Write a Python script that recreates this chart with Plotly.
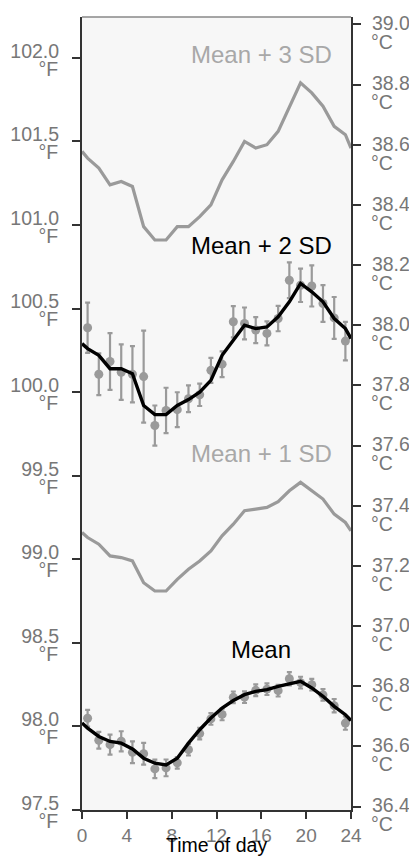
import plotly.graph_objects as go

# hours of day: smoothed curves (with wrap-around end points) and hourly means
line_hours = [0, 0.5, 1.5, 2.5, 3.5, 4.5, 5.5, 6.5, 7.5, 8.5, 9.5, 10.5, 11.5,
              12.5, 13.5, 14.5, 15.5, 16.5, 17.5, 18.5, 19.5, 20.5, 21.5, 22.5, 23.5, 24]
point_hours = [0.5, 1.5, 2.5, 3.5, 4.5, 5.5, 6.5, 7.5, 8.5, 9.5, 10.5, 11.5,
               12.5, 13.5, 14.5, 15.5, 16.5, 17.5, 18.5, 19.5, 20.5, 21.5, 22.5, 23.5]

# smoothed curves (°F)
sd3_line = [101.44, 101.40, 101.34, 101.24, 101.26, 101.23, 100.99, 100.91, 100.91, 100.99, 100.99, 101.05, 101.12,
            101.27, 101.38, 101.50, 101.46, 101.48, 101.56, 101.70, 101.85, 101.79, 101.71, 101.59, 101.54, 101.46]
sd2_line = [100.29, 100.26, 100.22, 100.14, 100.14, 100.11, 99.92, 99.865, 99.865, 99.92, 99.955, 100.00, 100.07,
            100.22, 100.31, 100.40, 100.38, 100.39, 100.45, 100.54, 100.65, 100.60, 100.54, 100.44, 100.38, 100.32]
sd1_line = [99.16, 99.13, 99.09, 99.02, 99.01, 98.99, 98.86, 98.81, 98.81, 98.88, 98.94, 98.99, 99.05,
            99.14, 99.21, 99.29, 99.30, 99.31, 99.345, 99.41, 99.46, 99.41, 99.36, 99.27, 99.22, 99.17]
mean_line = [98.02, 97.99, 97.94, 97.91, 97.90, 97.865, 97.81, 97.78, 97.77, 97.81, 97.90, 97.98, 98.05,
             98.11, 98.155, 98.19, 98.21, 98.22, 98.24, 98.255, 98.27, 98.23, 98.18, 98.12, 98.07, 98.035]

# hourly values with error bars (°F)
sd2_pts = [100.385, 100.107, 100.183, 100.119, 100.107, 100.093, 99.80, 99.89, 99.895, 99.96, 99.984, 100.13,
           100.167, 100.421, 100.411, 100.371, 100.351, 100.44, 100.669, 100.639, 100.635, 100.53, 100.444, 100.305]
sd2_err = [0.15, 0.125, 0.17, 0.166, 0.168, 0.275, 0.12, 0.136, 0.104, 0.08, 0.067, 0.075,
           0.077, 0.093, 0.095, 0.078, 0.072, 0.076, 0.107, 0.1, 0.123, 0.11, 0.125, 0.115]
mean_pts = [98.049, 97.917, 97.891, 97.911, 97.845, 97.837, 97.746, 97.752, 97.782, 97.861, 97.957, 98.045,
            98.072, 98.174, 98.175, 98.216, 98.223, 98.214, 98.285, 98.262, 98.25, 98.189, 98.124, 98.02]
mean_err = [0.05, 0.05, 0.06, 0.06, 0.065, 0.065, 0.055, 0.05, 0.035, 0.035, 0.035, 0.035,
            0.035, 0.035, 0.035, 0.035, 0.035, 0.035, 0.04, 0.035, 0.035, 0.035, 0.04, 0.04]

f_ticks = [97.5, 98.0, 98.5, 99.0, 99.5, 100.0, 100.5, 101.0, 101.5, 102.0]
c_ticks = [36.4, 36.6, 36.8, 37.0, 37.2, 37.4, 37.6, 37.8, 38.0, 38.2, 38.4, 38.6, 38.8, 39.0]
x_ticks = [0, 4, 8, 12, 16, 20, 24]


def to_c(vals):
    return [(v - 32) * 5 / 9 for v in vals]


f_range = [97.5, 102.244]
c_range = to_c(f_range)

FONT = "Arial, Liberation Sans, sans-serif"
GREY = "#9a9a9a"
DARK = "#333333"
TICKGREY = "#777777"

fig = go.Figure()

for vals in (sd3_line, sd1_line):
    fig.add_trace(go.Scatter(x=line_hours, y=vals, mode="lines",
                             line=dict(color=GREY, width=3.2), hoverinfo="skip"))

for vals, err in ((sd2_pts, sd2_err), (mean_pts, mean_err)):
    fig.add_trace(go.Scatter(
        x=point_hours, y=vals, mode="markers",
        marker=dict(color=GREY, size=9),
        error_y=dict(type="data", array=err, color=GREY, thickness=2.2, width=2.5),
    ))

for vals in (sd2_line, mean_line):
    fig.add_trace(go.Scatter(x=line_hours, y=vals, mode="lines",
                             line=dict(color="black", width=3.4), hoverinfo="skip"))

# invisible copies so the °C / unit axes get drawn
for ax, vals in (("y2", to_c(mean_line)), ("y3", mean_line), ("y4", to_c(mean_line))):
    fig.add_trace(go.Scatter(x=line_hours, y=vals, yaxis=ax, mode="lines",
                             line=dict(color="rgba(0,0,0,0)", width=0), hoverinfo="skip"))

labels = [("Mean + 3 SD", 102.02, "#a8a8a8"), ("Mean + 2 SD", 100.875, "black"),
          ("Mean + 1 SD", 99.63, "#a8a8a8"), ("Mean", 98.46, "black")]
for text, yv, col in labels:
    fig.add_annotation(x=16, y=yv, text=text, showarrow=False, xanchor="center",
                       yanchor="middle", font=dict(size=24, color=col, family=FONT))

fig.add_annotation(x=0.5, y=0, xref="paper", yref="paper", text="Time of day",
                   showarrow=False, xanchor="center", yanchor="bottom", yshift=-47,
                   borderpad=0, font=dict(size=19.5, color="black", family=FONT))

axis_common = dict(showgrid=False, zeroline=False, automargin=False,
                   tickfont=dict(size=19.5, color=TICKGREY, family=FONT))

fig.update_layout(
    width=401, height=849,
    margin=dict(l=74, r=58, t=9, b=47),
    paper_bgcolor="white", plot_bgcolor="#f7f7f7",
    showlegend=False,
    xaxis=dict(range=[0, 24], tickvals=x_ticks, ticks="outside", ticklen=7, tickwidth=2,
               tickcolor=DARK, showline=True, linecolor=DARK, linewidth=2,
               showgrid=False, zeroline=False, automargin=False,
               tickfont=dict(size=19, color=TICKGREY, family=FONT)),
    yaxis=dict(range=f_range, tickvals=f_ticks, ticktext=[f"{v:.1f}" for v in f_ticks],
               ticks="outside", ticklen=8, tickwidth=2, tickcolor=DARK,
               showline=True, linecolor=DARK, linewidth=2,
               ticklabelshift=-7, ticklabelstandoff=9, **axis_common),
    yaxis3=dict(range=f_range, overlaying="y", side="left", tickvals=f_ticks,
                ticktext=["°F"] * len(f_ticks), ticks="outside", ticklen=8,
                tickcolor="rgba(0,0,0,0)", showline=False,
                ticklabelshift=11, ticklabelstandoff=11, **axis_common),
    yaxis2=dict(range=c_range, overlaying="y", side="right", tickvals=c_ticks,
                ticktext=[f"{v:.1f}" for v in c_ticks], ticks="outside", ticklen=8, tickwidth=2,
                tickcolor=DARK, showline=True, linecolor=DARK, linewidth=2,
                ticklabelshift=-1, ticklabelstandoff=7, **axis_common),
    yaxis4=dict(range=c_range, overlaying="y", side="right", tickvals=c_ticks,
                ticktext=["°C"] * len(c_ticks), ticks="outside", ticklen=8,
                tickcolor="rgba(0,0,0,0)", showline=False,
                ticklabelshift=18, ticklabelstandoff=7, **axis_common),
    shapes=[dict(type="line", xref="paper", yref="paper", x0=0, x1=1, y0=1, y1=1,
                 line=dict(color="#888888", width=1.5))],
)

fig.write_html("out.html")
